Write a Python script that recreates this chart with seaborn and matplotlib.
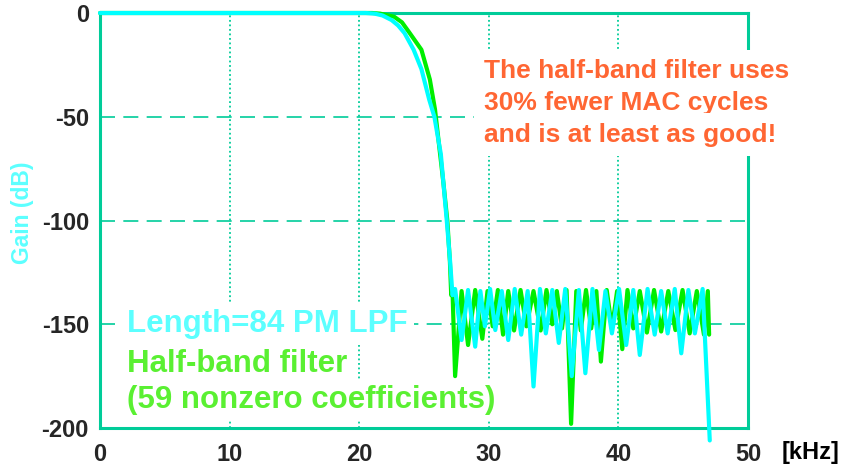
import pandas as pd
import seaborn as sns
import matplotlib.pyplot as plt

# === Data (frequency in kHz, gain in dB) ===
pm_khz = [0, 20.5, 21.2, 21.8, 22.5, 23.0, 23.5, 24.2, 24.8, 25.4, 25.8, 26.3, 26.75, 27.0, 27.2,
          27.4, 27.9, 28.4, 28.95, 29.35, 29.7, 30.1, 30.5, 31.0, 31.5, 32.0, 32.5, 33.0, 33.45,
          33.95, 34.4, 34.9, 35.4, 35.9, 36.4, 36.95, 37.45, 38.0, 38.5, 39.0, 39.5, 40.05, 40.6,
          41.15, 41.65, 42.25, 42.8, 43.3, 43.8, 44.35, 44.85, 45.4, 45.9, 46.5, 47.05]
pm_db = [0, 0, -0.3, -1.2, -3.4, -6, -9.7, -17.7, -27, -41.7, -50, -68, -99.6, -118.5, -136,
         -133, -157.6, -133.5, -160.8, -134, -151, -133, -152.8, -134, -157.6, -133, -155, -134, -180,
         -133, -154.4, -133.5, -159, -133, -175, -133.5, -173.6, -133, -162.4, -134, -154.4, -133, -160,
         -133.5, -164.8, -133, -155, -134, -154.4, -133, -164, -133.5, -154.4, -133, -206]

hb_khz = [0, 21.0, 21.6, 22.7, 23.3, 23.9, 24.8, 25.45, 25.85, 26.2, 26.5, 26.8, 27.0, 27.1,
          27.2, 27.4, 27.9, 28.4, 28.95, 29.5, 29.9, 30.3, 30.7, 31.1, 31.5, 31.95, 32.45, 32.9,
          33.45, 34.0, 34.45, 34.9, 35.25, 35.65, 36.0, 36.35, 36.75, 37.1, 37.5, 37.9, 38.3, 38.65,
          39.1, 39.5, 39.9, 40.3, 40.7, 41.15, 41.65, 42.2, 42.75, 43.3, 43.85, 44.4, 44.95, 45.5,
          46.05, 46.6, 46.9, 47.0]
hb_db = [0, 0, -0.3, -1.8, -4.5, -9.7, -17.7, -32, -46.5, -65.7, -82, -100, -120, -136,
         -134, -175, -134, -160, -133.5, -157, -134, -151, -133.5, -155, -134, -153, -133.5, -151,
         -134, -153, -133.5, -150, -134, -152, -133.5, -198, -134, -153, -133.5, -152, -134, -168,
         -133.5, -152, -134, -162, -133.5, -152, -134, -154, -133.5, -153.5, -134, -152.8, -133.5, -154.4,
         -134, -155, -134, -155]

x_ticks = [0, 10, 20, 30, 40, 50]
y_ticks = [0, -50, -100, -150, -200]

teal = "#00CC99"
cyan_line = "#00FFFF"
green_line = "#00EE00"
cyan_text = "#5CFFFF"
green_text = "#5AF032"
orange = "#FF6633"

sns.set_style("white")
plt.rcParams["font.family"] = ["Liberation Sans", "DejaVu Sans"]
plt.rcParams["font.weight"] = "bold"
plt.rcParams["axes.unicode_minus"] = False

fig = plt.figure(figsize=(8.47, 4.71), dpi=100)
ax = fig.add_axes([100 / 847, 43 / 471, 648 / 847, 415 / 471])

df_pm = pd.DataFrame({"kHz": pm_khz, "dB": pm_db})
df_hb = pd.DataFrame({"kHz": hb_khz, "dB": hb_db})

# green first so the cyan curve sits on top like in the original
sns.lineplot(data=df_hb, x="kHz", y="dB", ax=ax, color=green_line, lw=3.0,
             estimator=None, sort=False, zorder=3, clip_on=False)
sns.lineplot(data=df_pm, x="kHz", y="dB", ax=ax, color=cyan_line, lw=3.0,
             estimator=None, sort=False, zorder=3.1, clip_on=False)

ax.set_xlim(0, 50)
ax.set_ylim(-200, 0)
ax.set_xticks(x_ticks)
ax.set_yticks(y_ticks)
ax.set_xticks([5, 15, 25, 35, 45], minor=True)
ax.set_xlabel("")
ax.set_ylabel("")

ax.grid(axis="x", which="major", color=teal, linestyle=(0, (1, 1.5)), lw=1.3)
ax.grid(axis="y", which="major", color=teal, linestyle=(0, (9, 5)), lw=1.2)

for s in ax.spines.values():
    s.set_color(teal)
    s.set_linewidth(2.2)

ax.tick_params(axis="both", which="both", direction="in", color=teal, width=1.2)
ax.tick_params(axis="x", which="major", length=5, pad=11, labelsize=17)
ax.tick_params(axis="x", which="minor", length=3)
ax.tick_params(axis="y", which="major", length=5, pad=8, labelsize=17)
for lab in ax.get_xticklabels() + ax.get_yticklabels():
    lab.set_fontweight("bold")

# === Annotations ===
box = dict(boxstyle="square,pad=0.2", fc="white", ec="none")
ax.text(2.1, -153.6, "Length=84 PM LPF", color=cyan_text, fontsize=22.5,
        fontweight="bold", va="baseline", bbox=box, zorder=2.6)
ax.text(2.1, -172.9, "Half-band filter", color=green_text, fontsize=22.5,
        fontweight="bold", va="baseline", bbox=box, zorder=2.6)
ax.text(2.1, -190.4, "(59 nonzero coefficients)", color=green_text, fontsize=22.5,
        fontweight="bold", va="baseline", bbox=box, zorder=2.6)

obox = dict(boxstyle="square,pad=0.35", fc="white", ec="none")
for txt, yy in [("The half-band filter uses", -31.5),
                ("30% fewer MAC cycles", -46.7),
                ("and is at least as good!", -62.0)]:
    ax.text(29.6, yy, txt, color=orange, fontsize=19, fontweight="bold",
            va="baseline", bbox=obox, zorder=5, clip_on=False)

fig.text(22 / 847, 1 - 213 / 471, "Gain (dB)", color=cyan_text, fontsize=16.5,
         fontweight="bold", rotation=90, ha="center", va="center")
fig.text(811 / 847, 1 - 453 / 471, "[kHz]", color="black", fontsize=17,
         fontweight="bold", ha="center", va="center")

plt.savefig("out.png", dpi=100)
